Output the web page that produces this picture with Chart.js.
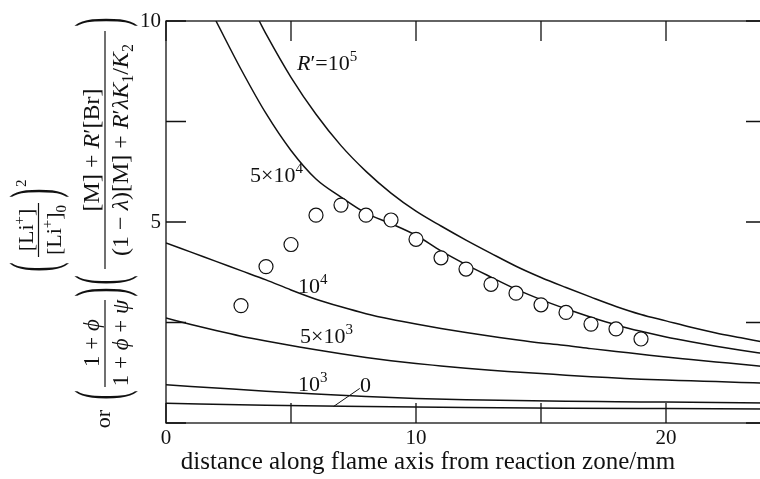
<!DOCTYPE html>
<html>
<head>
<meta charset="utf-8">
<script src="https://cdn.jsdelivr.net/npm/chart.js@4.4.1/dist/chart.umd.min.js"></script>
<style>
  html, body { margin: 0; padding: 0; background: #fff; overflow: hidden; }
  #wrap { width: 760px; height: 479px; overflow: hidden; }
</style>
</head>
<body>
<div id="wrap"><canvas id="chart" width="780" height="479"></canvas></div>
<script>
// measured points (circles)
const pointX = [3, 4, 5, 6, 7, 8, 9, 10, 11, 12, 13, 14, 15, 16, 17, 18, 19];
const pointY = [2.92, 3.89, 4.44, 5.17, 5.42, 5.17, 5.05, 4.57, 4.11, 3.83, 3.45, 3.23, 2.94, 2.75, 2.46, 2.34, 2.09];

// calculated curves, one per value of R'
const x1e5 = [3.73, 4, 5, 6, 7, 8, 9, 10, 11, 12, 13, 14, 15, 16, 17, 18, 19, 20, 21, 22, 23, 24];
const y1e5 = [10, 9.68, 8.6, 7.68, 6.9, 6.26, 5.72, 5.27, 4.9, 4.55, 4.22, 3.9, 3.62, 3.37, 3.13, 2.9, 2.7, 2.54, 2.38, 2.24, 2.12, 2.0];

const x5e4 = [2, 3, 4, 5, 6, 7, 8, 9, 10, 11, 12, 13, 14, 15, 16, 17, 18, 19, 20, 21, 22, 23, 24];
const y5e4 = [10, 8.8, 7.7, 6.78, 6.07, 5.62, 5.22, 4.96, 4.67, 4.28, 3.94, 3.63, 3.33, 3.07, 2.84, 2.63, 2.44, 2.28, 2.14, 2.02, 1.91, 1.81, 1.72];

const xFull = [0, 1, 2, 3, 4, 5, 6, 7, 8, 9, 10, 11, 12, 13, 14, 15, 16, 17, 18, 19, 20, 21, 22, 23, 24];
const y1e4 = [4.48, 4.25, 4.02, 3.79, 3.56, 3.31, 3.08, 2.89, 2.72, 2.58, 2.46, 2.35, 2.25, 2.16, 2.07, 1.99, 1.93, 1.85, 1.78, 1.71, 1.64, 1.58, 1.52, 1.46, 1.4];
const y5e3 = [2.61, 2.45, 2.3, 2.16, 2.04, 1.93, 1.82, 1.72, 1.63, 1.55, 1.48, 1.42, 1.36, 1.31, 1.27, 1.23, 1.19, 1.15, 1.12, 1.09, 1.07, 1.05, 1.03, 1.01, 0.99];

const xEven = [0, 2, 4, 6, 8, 10, 12, 14, 16, 18, 20, 22, 24];
const y1e3 = [0.95, 0.87, 0.79, 0.72, 0.66, 0.61, 0.58, 0.56, 0.54, 0.53, 0.52, 0.51, 0.5];

const xFour = [0, 4, 8, 12, 16, 20, 24];
const y0 = [0.49, 0.44, 0.41, 0.385, 0.37, 0.36, 0.35];

const xTickLabels = [0, 10, 20];
const yTickLabels = [5, 10];

const SERIF = "'Liberation Serif', 'DejaVu Serif', serif";
const TICK = 20;

function pts(xs, ys) { return xs.map((v, i) => ({ x: v, y: ys[i] })); }

function curve(xs, ys) {
  return {
    data: pts(xs, ys),
    showLine: true,
    borderColor: '#111',
    borderWidth: 1.5,
    pointRadius: 0,
    cubicInterpolationMode: 'monotone',
    fill: false
  };
}

// rich text: parts = [text, flags]  flags: i italic, ^ sup, _ sub
function rich(ctx, parts, x, y, size, align) {
  const fontOf = f => (f.includes('i') ? 'italic ' : '') +
    ((f.includes('^') || f.includes('_')) ? Math.round(size * 0.68) : size) + 'px ' + SERIF;
  let w = 0;
  parts.forEach(p => { ctx.font = fontOf(p[1]); w += ctx.measureText(p[0]).width; });
  let cx = align === 'center' ? x - w / 2 : (align === 'right' ? x - w : x);
  ctx.textAlign = 'left';
  ctx.textBaseline = 'alphabetic';
  parts.forEach(p => {
    ctx.font = fontOf(p[1]);
    const dy = p[1].includes('^') ? -size * 0.42 : (p[1].includes('_') ? size * 0.22 : 0);
    ctx.fillText(p[0], cx, y + dy);
    cx += ctx.measureText(p[0]).width;
  });
  return w;
}

function bigParen(ctx, ch, u, v0, v1) {
  ctx.save();
  ctx.font = '28px ' + SERIF;
  const m = ctx.measureText(ch);
  const asc = m.actualBoundingBoxAscent, desc = m.actualBoundingBoxDescent;
  const s = (v1 - v0) / (asc + desc);
  ctx.translate(u, v0);
  ctx.scale(1, s);
  ctx.textAlign = 'center';
  ctx.textBaseline = 'alphabetic';
  ctx.fillText(ch, 0, asc);
  ctx.restore();
}

function bar(ctx, u0, u1, v) {
  ctx.beginPath();
  ctx.lineWidth = 1.2;
  ctx.moveTo(u0, v);
  ctx.lineTo(u1, v);
  ctx.stroke();
}

const curveNotes = [
  { x: 5.24, y: 8.78, parts: [['R', 'i'], ['\u2032', ''], ['=', ''], ['10', ''], ['5', '^']] },
  { x: 3.36, y: 6.0, parts: [['5\u00d710', ''], ['4', '^']] },
  { x: 5.28, y: 3.23, parts: [['10', ''], ['4', '^']] },
  { x: 5.36, y: 1.99, parts: [['5\u00d710', ''], ['3', '^']] },
  { x: 5.28, y: 0.8, parts: [['10', ''], ['3', '^']] },
  { x: 7.76, y: 0.77, parts: [['0', '']] }
];
const leader = [{ x: 6.7, y: 0.41 }, { x: 7.75, y: 0.86 }];

const decor = {
  id: 'decor',
  afterDatasetsDraw(chart) {
    const { ctx, chartArea: a, scales: { x, y } } = chart;
    ctx.save();
    ctx.strokeStyle = '#111';
    ctx.fillStyle = '#111';
    ctx.lineWidth = 1.3;
    ctx.strokeRect(a.left, a.top, a.right - a.left, a.bottom - a.top);
    ctx.beginPath();
    x.ticks.forEach(t => {
      const px = x.getPixelForValue(t.value);
      ctx.moveTo(px, a.bottom); ctx.lineTo(px, a.bottom - TICK);
      ctx.moveTo(px, a.top); ctx.lineTo(px, a.top + TICK);
    });
    y.ticks.forEach(t => {
      const py = y.getPixelForValue(t.value);
      ctx.moveTo(a.left, py); ctx.lineTo(a.left + TICK, py);
      ctx.moveTo(a.right, py); ctx.lineTo(a.right - TICK, py);
    });
    ctx.stroke();

    // leader line for the R'=0 curve
    ctx.beginPath();
    ctx.lineWidth = 1;
    ctx.moveTo(x.getPixelForValue(leader[0].x), y.getPixelForValue(leader[0].y));
    ctx.lineTo(x.getPixelForValue(leader[1].x), y.getPixelForValue(leader[1].y));
    ctx.stroke();

    curveNotes.forEach(n => {
      rich(ctx, n.parts, x.getPixelForValue(n.x), y.getPixelForValue(n.y), 22, 'left');
    });

    // x axis title
    ctx.font = '25px ' + SERIF;
    ctx.textAlign = 'center';
    ctx.textBaseline = 'alphabetic';
    ctx.fillText('distance along flame axis from reaction zone/mm', 428, 469);

    // y axis title, rotated
    ctx.save();
    ctx.translate(0, 479);
    ctx.rotate(-Math.PI / 2);
    // column 1
    bigParen(ctx, '(', 212, 9, 69);
    bigParen(ctx, ')', 286, 9, 69);
    bar(ctx, 222, 276, 38.5);
    rich(ctx, [['[Li', ''], ['+', '^'], [']', '']], 249, 33, 22, 'center');
    rich(ctx, [['[Li', ''], ['+', '^'], [']', ''], ['0', '_']], 249, 61, 22, 'center');
    rich(ctx, [['2', '']], 292, 26, 15, 'left');
    // column 2
    rich(ctx, [['or', '']], 60, 110, 22, 'center');
    bigParen(ctx, '(', 84, 73, 138);
    bigParen(ctx, ')', 187, 73, 138);
    bar(ctx, 92, 179, 105);
    rich(ctx, [['1 + ', ''], ['\u03d5', 'i']], 136, 99, 23, 'center');
    rich(ctx, [['1 + ', ''], ['\u03d5', 'i'], [' + ', ''], ['\u03c8', 'i']], 136, 128, 23, 'center');
    bigParen(ctx, '(', 199, 73, 138);
    bigParen(ctx, ')', 457, 73, 138);
    bar(ctx, 210, 448, 105);
    rich(ctx, [['[M] + ', ''], ['R', 'i'], ['\u2032', ''], ['[Br]', '']], 329, 99, 24, 'center');
    rich(ctx, [['(1 \u2212 ', ''], ['\u03bb', 'i'], [')[M] + ', ''], ['R', 'i'], ['\u2032', ''], ['\u03bbK', 'i'],
               ['1', '_'], ['/', ''], ['K', 'i'], ['2', '_']], 329, 128, 24, 'center');
    ctx.restore();

    ctx.restore();
  }
};

const config = {
  type: 'scatter',
  data: {
    datasets: [
      {
        data: pts(pointX, pointY),
        pointRadius: 7,
        pointBorderWidth: 1.2,
        pointBorderColor: '#111',
        pointBackgroundColor: '#fff',
        showLine: false
      },
      curve(x1e5, y1e5),
      curve(x5e4, y5e4),
      curve(xFull, y1e4),
      curve(xFull, y5e3),
      curve(xEven, y1e3),
      curve(xFour, y0)
    ]
  },
  options: {
    responsive: false,
    animation: false,
    events: [],
    layout: { padding: { left: 0, top: 21, right: 14, bottom: 0 } },
    plugins: { legend: { display: false }, tooltip: { enabled: false } },
    scales: {
      x: {
        type: 'linear',
        min: 0,
        max: 24,
        grid: { display: false, drawTicks: false },
        border: { display: false },
        ticks: {
          stepSize: 5,
          includeBounds: false,
          maxRotation: 0,
          padding: 3,
          color: '#111',
          font: { family: SERIF, size: 21 },
          callback: v => xTickLabels.includes(v) ? String(v) : ''
        },
        afterFit: s => { s.height = 56; }
      },
      y: {
        type: 'linear',
        min: 0,
        max: 10,
        grid: { display: false, drawTicks: false },
        border: { display: false },
        ticks: {
          stepSize: 2.5,
          padding: 5,
          color: '#111',
          font: { family: SERIF, size: 21 },
          callback: v => yTickLabels.includes(v) ? String(v) : ''
        },
        afterFit: s => { s.width = 166; }
      }
    }
  },
  plugins: [decor]
};

var ctx = document.getElementById('chart').getContext('2d');
var chart = new Chart(ctx, config);
</script>
</body>
</html>
